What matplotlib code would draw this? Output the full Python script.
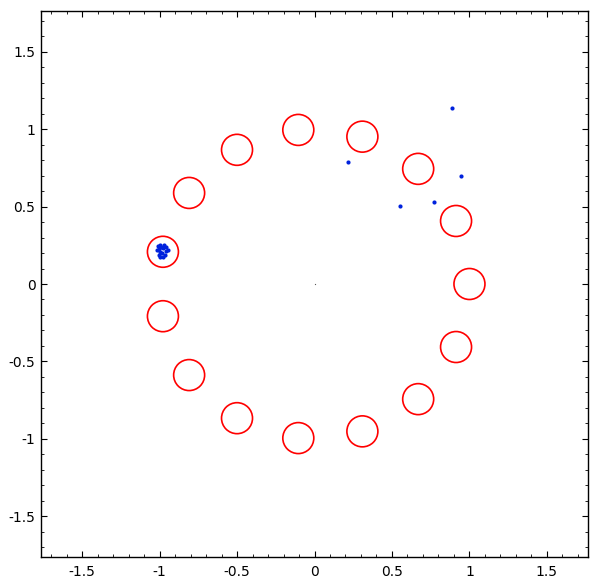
import numpy as np
import matplotlib
matplotlib.use("Agg")
import matplotlib.pyplot as plt
from matplotlib.patches import Circle
from matplotlib.ticker import MultipleLocator, FuncFormatter

# Data
circle_angles_deg = [0, 24, 48, 72, 96, 120, 144, 168, 192, 216, 240, 264, 288, 312, 336]
circle_radius = 0.1

scatter_x = [0.886, 0.213, 0.946, 0.768, 0.550,
             -1.011, -1.000, -0.989, -1.006, -1.015, -0.972, -0.961, -0.978,
             -0.994, -0.983, -0.957, -0.946, -1.004, -0.996, -0.968, -0.978]
scatter_y = [1.137, 0.787, 0.699, 0.531, 0.505,
             0.245, 0.254, 0.241, 0.228, 0.219, 0.249, 0.241, 0.232,
             0.209, 0.198, 0.215, 0.219, 0.187, 0.172, 0.185, 0.172]
origin_x = [0.0]
origin_y = [0.0]

plt.rcParams['axes.unicode_minus'] = False
fig = plt.figure(figsize=(5.99, 5.84), dpi=100)
ax = fig.add_axes([41/599, (584-557)/584, (588-41)/599, (557-11)/584])

ang = np.deg2rad(circle_angles_deg)
for cx, cy in zip(np.cos(ang), np.sin(ang)):
    ax.add_patch(Circle((cx, cy), circle_radius, fill=False, edgecolor='#ff0000', linewidth=1.2))

ax.scatter(scatter_x, scatter_y, s=9, color='#0022dd', zorder=3, linewidths=0)
ax.scatter(origin_x, origin_y, s=0.8, color='#555555', zorder=3, linewidths=0)

ax.set_xlim(-1.765, 1.765)
ax.set_ylim(-1.762, 1.762)
ax.set_aspect('auto')

for a in (ax.xaxis, ax.yaxis):
    a.set_major_locator(MultipleLocator(0.5))
    a.set_minor_locator(MultipleLocator(0.1))
    a.set_major_formatter(FuncFormatter(lambda v, p: '%g' % round(v, 2)))

ax.tick_params(which='both', direction='in', top=True, right=True, labelsize=10, colors='black')
ax.tick_params(which='major', length=4.5, width=0.8)
ax.tick_params(axis='x', which='major', pad=6)
ax.tick_params(axis='y', which='major', pad=4)
ax.tick_params(which='minor', length=2.2, width=0.6)
for s in ax.spines.values():
    s.set_linewidth(1.0)

fig.savefig('out.png', dpi=100)
